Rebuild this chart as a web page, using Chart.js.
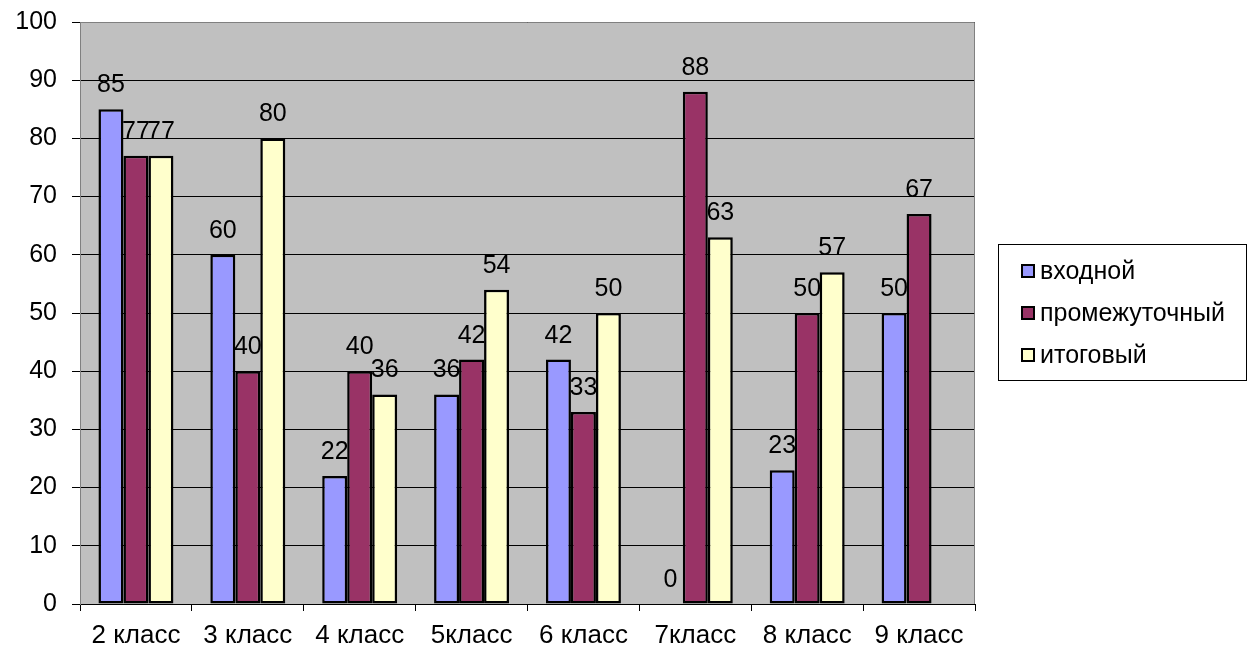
<!DOCTYPE html>
<html>
<head>
<meta charset="utf-8">
<script src="https://cdn.jsdelivr.net/npm/chart.js@4/dist/chart.umd.min.js"></script>
<style>
  html, body { margin: 0; padding: 0; background: #fff; }
  #wrap { width: 1247px; height: 650px; }
</style>
</head>
<body>
<div id="wrap"><canvas id="grafico" width="1247" height="650"></canvas></div>
<script>
// данные с диаграммы
var klassy = ["2 класс", "3 класс", "4 класс", "5класс", "6 класс", "7класс", "8 класс", "9 класс"];
var vhodnoy = [85, 60, 22, 36, 42, 0, 23, 50];
var promezh = [77, 40, 40, 42, 33, 88, 50, 67];
var itog = [77, 80, 36, 54, 50, 63, 57, null];
var yTicks = [0, 10, 20, 30, 40, 50, 60, 70, 80, 90, 100];

var FONT = "'Liberation Sans', Arial, sans-serif";

function bezPadding(s) {
  s.paddingTop = 0; s.paddingBottom = 0; s.paddingLeft = 0; s.paddingRight = 0;
}

// серый фон области построения
var fonPlugin = {
  id: 'fon',
  beforeDraw: function(chart) {
    var a = chart.chartArea, ctx = chart.ctx;
    ctx.save();
    ctx.fillStyle = '#c0c0c0';
    ctx.fillRect(a.left, a.top, a.right - a.left, a.bottom - a.top);
    ctx.restore();
  },
  afterDatasetsDraw: function(chart) {
    var ctx = chart.ctx, a = chart.chartArea;
    // рамка справа и сверху
    ctx.save();
    ctx.strokeStyle = '#808080';
    ctx.lineWidth = 1;
    ctx.beginPath();
    ctx.moveTo(a.left, a.top + 0.5);
    ctx.lineTo(a.right - 0.5, a.top + 0.5);
    ctx.lineTo(a.right - 0.5, a.bottom);
    ctx.stroke();
    // подписи значений
    ctx.fillStyle = '#000';
    ctx.font = '25px ' + FONT;
    ctx.textAlign = 'center';
    ctx.textBaseline = 'alphabetic';
    chart.data.datasets.forEach(function(ds, i) {
      chart.getDatasetMeta(i).data.forEach(function(bar, j) {
        var v = ds.data[j];
        if (v === null || v === undefined) return;
        ctx.fillText(String(v), bar.x, bar.y - 17);
      });
    });
    // легенда
    var lx = 998, ly = 244, lw = 248, lh = 136;
    ctx.strokeStyle = '#000';
    ctx.lineWidth = 1;
    ctx.strokeRect(lx + 0.5, ly + 0.5, lw, lh);
    ctx.textAlign = 'left';
    ctx.textBaseline = 'middle';
    ctx.font = '25px ' + FONT;
    chart.data.datasets.forEach(function(ds, i) {
      var cy = ly + 27 + i * 42;
      ctx.fillStyle = ds.backgroundColor;
      ctx.fillRect(lx + 24, cy - 6, 12, 12);
      ctx.strokeStyle = '#000';
      ctx.lineWidth = 2;
      ctx.strokeRect(lx + 24, cy - 6, 12, 12);
      ctx.fillStyle = '#000';
      ctx.fillText(ds.label, lx + 42, cy + 1);
    });
    ctx.restore();
  }
};

new Chart(document.getElementById("grafico"), {
  type: 'bar',
  data: {
    labels: klassy,
    datasets: [
      { label: "входной", data: vhodnoy, backgroundColor: "#9999ff", borderColor: "#000", borderWidth: 2.5 },
      { label: "промежуточный", data: promezh, backgroundColor: "#993366", borderColor: "#000", borderWidth: 2.5 },
      { label: "итоговый", data: itog, backgroundColor: "#ffffcc", borderColor: "#000", borderWidth: 2.5 }
    ]
  },
  options: {
    responsive: false,
    animation: false,
    layout: { padding: { left: 0, top: 22, right: 272, bottom: 0 } },
    plugins: { legend: { display: false }, tooltip: { enabled: false } },
    datasets: { bar: { barPercentage: 1, categoryPercentage: 0.67, borderSkipped: false } },
    scales: {
      x: {
        afterFit: function(s) { s.height = 46; bezPadding(s); },
        grid: { offset: true, drawOnChartArea: false, color: '#000', tickLength: 7 },
        border: { color: '#000', width: 1 },
        ticks: { color: '#000', font: { family: FONT, size: 26 }, padding: 9 }
      },
      y: {
        min: 0, max: 100,
        afterFit: function(s) { s.width = 80; bezPadding(s); },
        afterBuildTicks: function(s) { s.ticks = yTicks.map(function(v) { return { value: v }; }); },
        grid: { color: '#000', tickLength: 8 },
        border: { color: '#808080', width: 1 },
        ticks: { color: '#000', font: { family: FONT, size: 25 }, padding: 15 }
      }
    }
  },
  plugins: [fonPlugin]
});
</script>
</body>
</html>
